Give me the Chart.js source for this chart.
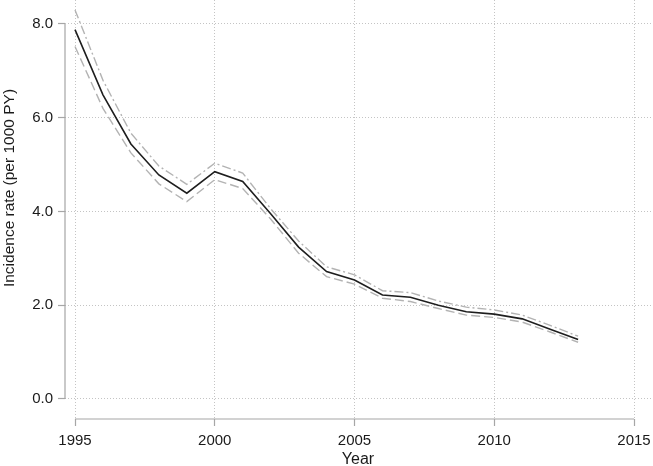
<!DOCTYPE html>
<html>
<head>
<meta charset="utf-8">
<script src="https://cdn.jsdelivr.net/npm/chart.js@4/dist/chart.umd.min.js"></script>
<style>
  html, body { margin: 0; padding: 0; background: #fff; }
  #wrap { width: 653px; height: 466px; position: relative; }
</style>
</head>
<body>
<div id="wrap"><canvas id="c"></canvas></div>
<script>
const years = [1995,1996,1997,1998,1999,2000,2001,2002,2003,2004,2005,2006,2007,2008,2009,2010,2011,2012,2013];
const rate  = [7.88,6.49,5.44,4.78,4.39,4.85,4.64,3.95,3.24,2.72,2.54,2.22,2.17,2.00,1.86,1.81,1.71,1.49,1.27];
const upper = [8.30,6.80,5.67,4.97,4.58,5.03,4.82,4.06,3.37,2.82,2.65,2.31,2.27,2.09,1.96,1.90,1.79,1.57,1.34];
const lower = [7.52,6.20,5.25,4.59,4.21,4.68,4.49,3.84,3.11,2.61,2.45,2.15,2.08,1.93,1.79,1.74,1.64,1.43,1.21];
const xTicks = [1995,2000,2005,2010,2015];
const yTicks = [0,2,4,6,8];
const yTitle = 'Incidence rate (per 1000 PY)';
const xTitle = 'Year';

const pts = arr => years.map((y,i) => ({x: y, y: arr[i]}));
const FONT = "'Liberation Sans', Arial, sans-serif";
const AXIS = '#a6a6a6';
const GRID = '#c4c4c4';
const TEXT = '#1a1a1a';

const axisLines = {
  id: 'axisLines',
  afterDatasetsDraw(chart) {
    const ctx = chart.ctx, x = chart.scales.x, y = chart.scales.y, a = chart.chartArea;
    ctx.save();
    ctx.strokeStyle = AXIS; ctx.lineWidth = 1.2; ctx.setLineDash([]);
    ctx.beginPath();
    ctx.moveTo(x.getPixelForValue(xTicks[0]), a.bottom);
    ctx.lineTo(x.getPixelForValue(xTicks[xTicks.length-1]), a.bottom);
    ctx.moveTo(a.left, y.getPixelForValue(yTicks[0]));
    ctx.lineTo(a.left, y.getPixelForValue(yTicks[yTicks.length-1]));
    ctx.stroke();
    // y axis title
    ctx.fillStyle = TEXT;
    ctx.font = "15.5px " + FONT;
    ctx.textAlign = 'center';
    ctx.textBaseline = 'middle';
    ctx.translate(10, 188);
    ctx.rotate(-Math.PI / 2);
    ctx.fillText(yTitle, 0, 0);
    ctx.restore();
  }
};

new Chart(document.getElementById('c'), {
  type: 'line',
  data: {
    datasets: [
      { label: 'Upper', data: pts(upper), borderColor: '#b3b3b3', borderWidth: 1.4, borderDash: [9,3,2,3], pointRadius: 0, fill: false, tension: 0 },
      { label: 'Lower', data: pts(lower), borderColor: '#b3b3b3', borderWidth: 1.4, borderDash: [9,4], pointRadius: 0, fill: false, tension: 0 },
      { label: 'Rate',  data: pts(rate),  borderColor: '#1e1e1e', borderWidth: 1.6, pointRadius: 0, fill: false, tension: 0 }
    ]
  },
  options: {
    responsive: true,
    maintainAspectRatio: false,
    animation: false,
    events: [],
    layout: { padding: { top: 0, right: 2, bottom: 0, left: 0 } },
    plugins: { legend: { display: false }, tooltip: { enabled: false } },
    scales: {
      x: {
        type: 'linear',
        min: 1994.642, max: 2015.608,
        afterBuildTicks: s => { s.ticks = xTicks.map(v => ({value: v})); },
        afterFit: s => { s.height = 47; s.paddingLeft = 0; s.paddingRight = 0; },
        border: { display: false, dash: [1,2] },
        grid: { color: GRID, lineWidth: 1, drawTicks: true, tickLength: 7, tickColor: AXIS, tickBorderDash: [], tickWidth: 1.2 },
        ticks: { color: TEXT, font: { family: FONT, size: 15 }, padding: 6, maxRotation: 0, autoSkip: false, callback: v => String(v) },
        title: { display: true, text: xTitle, color: TEXT, font: { family: FONT, size: 16 }, padding: { top: 0, bottom: -3 } }
      },
      y: {
        type: 'linear',
        min: -0.4267, max: 8.512,
        afterBuildTicks: s => { s.ticks = yTicks.map(v => ({value: v})); },
        afterFit: s => { s.width = 65; s.paddingTop = 0; s.paddingBottom = 0; },
        border: { display: false, dash: [1,2] },
        grid: { color: GRID, lineWidth: 1, drawTicks: true, tickLength: 7, tickColor: AXIS, tickBorderDash: [], tickWidth: 1.2 },
        ticks: { color: TEXT, font: { family: FONT, size: 15 }, padding: 5, autoSkip: false, callback: v => v.toFixed(1) },
        title: { display: false }
      }
    }
  },
  plugins: [axisLines]
});
</script>
</body>
</html>
